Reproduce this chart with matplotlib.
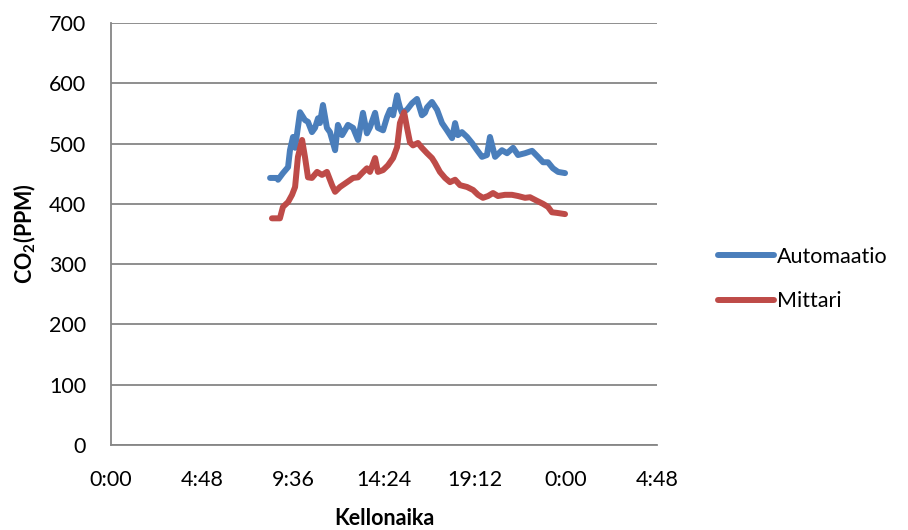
import matplotlib
matplotlib.use("Agg")
import matplotlib.pyplot as plt

# Time of day (decimal hours) and CO2 readings (ppm)
auto_time = [8.39, 8.76, 8.81, 9.07, 9.34, 9.44, 9.60, 9.71, 9.97, 10.23, 10.39, 10.60,
             10.76, 10.92, 11.02, 11.18, 11.39, 11.55, 11.82, 11.97, 12.19, 12.34, 12.50,
             12.77, 13.03, 13.29, 13.50, 13.66, 13.93, 14.08, 14.35, 14.56, 14.72, 14.88,
             15.09, 15.14, 15.24, 15.35, 15.61, 15.88, 16.14, 16.40, 16.56, 16.67, 16.93,
             17.20, 17.46, 17.72, 17.99, 18.15, 18.30, 18.51, 18.78, 19.04, 19.31, 19.57,
             19.83, 19.99, 20.26, 20.62, 20.89, 21.21, 21.47, 21.84, 22.21, 22.52, 22.79,
             23.05, 23.31, 23.58, 23.95]
auto_ppm = [443, 443, 440, 451, 461, 489, 511, 493, 552, 539, 536, 519,
            526, 542, 534, 564, 526, 519, 489, 531, 514, 522, 531,
            526, 506, 551, 517, 527, 551, 526, 522, 544, 556, 547,
            580, 572, 560, 551, 556, 567, 574, 547, 551, 560, 569,
            556, 534, 522, 509, 534, 514, 519, 511, 501, 489, 478,
            481, 511, 478, 489, 484, 493, 481, 484, 488, 478, 469,
            469, 459, 453, 451]

mitt_time = [8.49, 8.91, 9.07, 9.34, 9.55, 9.71, 9.86, 10.08, 10.23, 10.39, 10.60, 10.87,
             11.13, 11.39, 11.66, 11.82, 12.08, 12.45, 12.77, 13.03, 13.24, 13.50, 13.66,
             13.93, 14.08, 14.35, 14.61, 14.88, 15.09, 15.24, 15.46, 15.61, 15.77, 15.93,
             16.19, 16.40, 16.67, 16.93, 17.09, 17.35, 17.62, 17.88, 18.15, 18.41, 18.78,
             19.10, 19.36, 19.62, 19.89, 20.15, 20.41, 20.78, 21.15, 21.47, 21.84, 22.10,
             22.47, 22.79, 23.05, 23.26, 23.53, 23.95]
mitt_ppm = [376, 376, 395, 403, 415, 428, 478, 506, 478, 444, 443, 453,
            448, 453, 431, 420, 428, 436, 443, 444, 451, 459, 453,
            476, 453, 456, 464, 476, 494, 534, 552, 527, 502, 497,
            501, 493, 484, 476, 468, 453, 443, 436, 440, 431, 428,
            423, 415, 410, 413, 418, 413, 415, 415, 413, 410, 411,
            405, 400, 395, 386, 385, 383]

series_names = ["Automaatio", "Mittari"]
x_ticks = [0, 4.8, 9.6, 14.4, 19.2, 24.0, 28.8]
x_tick_labels = ["0:00", "4:48", "9:36", "14:24", "19:12", "0:00", "4:48"]
y_ticks = [0, 100, 200, 300, 400, 500, 600, 700]

plt.rcParams['font.family'] = ['Lato', 'DejaVu Sans']
plt.rcParams['mathtext.fontset'] = 'custom'
plt.rcParams['mathtext.rm'] = 'Lato'
plt.rcParams['mathtext.bf'] = 'Lato:bold'

fig = plt.figure(figsize=(9.08, 5.30), dpi=100)
ax = fig.add_axes([111/908, 1-445/530, (657-111)/908, (445-23)/530])

blue = '#4A7EBB'
red = '#BE4B48'
l1, = ax.plot(auto_time, auto_ppm, color=blue, lw=4.3, solid_capstyle='round', solid_joinstyle='round')
l2, = ax.plot(mitt_time, mitt_ppm, color=red, lw=4.3, solid_capstyle='round', solid_joinstyle='round')

ax.set_xlim(0, 28.8)
ax.set_ylim(0, 700)
ax.set_xticks(x_ticks)
ax.set_xticklabels(x_tick_labels)
ax.set_yticks(y_ticks)
ax.tick_params(axis='both', length=0, labelsize=15.5, colors='black')
ax.tick_params(axis='y', pad=18)
ax.tick_params(axis='x', pad=18)
ax.yaxis.grid(True, color='#868686', lw=1.3)
ax.set_axisbelow(True)
for s in ['top', 'right']:
    ax.spines[s].set_visible(False)
for s in ['left', 'bottom']:
    ax.spines[s].set_color('#868686')
    ax.spines[s].set_linewidth(1.3)

ax.set_xlabel('Kellonaika', fontsize=15.5, fontweight='bold', labelpad=13)
ax.set_ylabel('CO$_{\\mathbf{2}}$(PPM)', fontsize=15.5, fontweight='bold', labelpad=8)

fig.legend([l1, l2], series_names, loc='center left', bbox_to_anchor=(718/908, 1-279/530),
           frameon=False, fontsize=15.5, handlelength=2.6, handletextpad=0.15,
           labelspacing=1.15, borderpad=0, borderaxespad=0)

fig.savefig('out.png', dpi=100)
